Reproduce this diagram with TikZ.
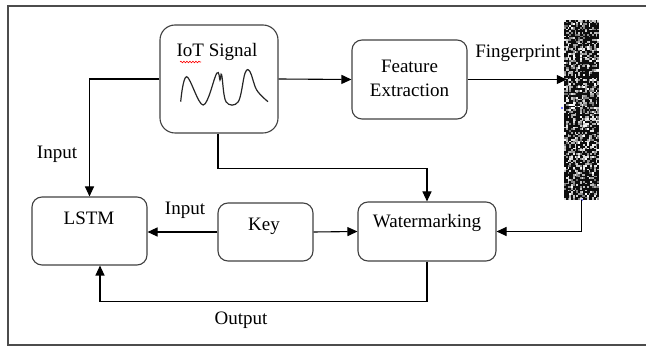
\documentclass[tikz,border=0pt]{standalone}
\usepackage{fontspec}
\setmainfont{Liberation Serif}
\usetikzlibrary{arrows.meta,decorations.pathmorphing}
\begin{document}
\begin{tikzpicture}[x=1pt,y=-1pt,
  box/.style={draw=black!75,line width=1.1pt,rounded corners=10pt,inner sep=0pt},
  lbl/.style={font=\fontsize{19}{22}\selectfont,inner sep=0pt,align=center},
  arr/.style={draw=black,line width=1.1pt,-{Triangle[length=10pt,width=9pt]}},
  conn/.style={draw=black,line width=1.1pt}]
\useasboundingbox (0,0) rectangle (646,347);
\draw[black!70,line width=1.6pt] (8,6) rectangle (652,345);
% boxes
\node[box,rounded corners=15pt,minimum width=118pt,minimum height=108pt] (iot) at (219,79) {};
\node[box,minimum width=115pt,minimum height=79pt] (fe) at (409.5,79.5) {};
\node[box,minimum width=115pt,minimum height=68pt] (lstm) at (89.5,231) {};
\node[box,minimum width=95pt,minimum height=58pt] (key) at (265.5,232) {};
\node[box,minimum width=138pt,minimum height=59pt] (wm) at (427,231.5) {};
\node[inner sep=0pt,minimum width=35pt,minimum height=180pt] (fp) at (581.5,110) {};
% fingerprint noise
\pgfmathsetseed{7}
\fill[black!80] (564,20) rectangle (599,200);
\foreach \i in {0,...,19}{
  \foreach \j in {0,...,102}{
    \pgfmathsetmacro\g{rnd<0.55 ? 95 : int(60*rnd)}
    \fill[black!\g] (564+\i*1.75,20+\j*1.75) rectangle +(1.85,1.85);
  }
}
\fill[blue!70] (562,108) circle (1.1);
\fill[blue!70] (582,200) circle (1.1);
% texts
\node[lbl] (tiot) at (217,52) {IoT Signal};
\draw[red,line width=0.6pt,decorate,decoration={snake,amplitude=0.8pt,segment length=3pt}] (180,62) -- (201,62);
\draw[line width=1.2pt,black!85] plot[smooth,tension=0.6] coordinates {(180.7,101.7) (186.7,76.7) (203.3,105) (216.7,73.3) (220,80) (221.7,75) (226,101.7) (238.3,101.7) (245,73.3) (250,71.7) (256.7,90) (268,101.7)};
\node[lbl] (tfe) at (409.5,78) {Feature\\[2pt]Extraction};
\node[lbl] (tlstm) at (89,218) {LSTM};
\node[lbl] (tkey) at (264,226) {Key};
\node[lbl] (twm) at (427,223) {Watermarking};
\node[lbl] (lin1) at (57,154) {Input};
\node[lbl] (lin2) at (185,210) {Input};
\node[lbl] (lout) at (241,320) {Output};
\node[lbl] (lfp) at (518,53) {Fingerprint};
% connectors
\draw[arr] (iot.west) -| (lstm.north);
\draw[arr] (iot.east) -- (fe.west);
\draw[arr] (fe.east) -- ([xshift=3pt]fe.east -| fp.west);
\draw[arr] ([xshift=-1pt]iot.south) -- ++(0,35) -| (wm.north);
\draw[arr] (fp.south) |- (wm.east);
\draw[arr] (key.east) -- (wm.west);
\draw[arr] (key.west) -- (key.west -| lstm.east);
\draw[arr] (wm.south) -- ++(0,40) -| ([xshift=10.5pt]lstm.south);
\end{tikzpicture}
\end{document}
